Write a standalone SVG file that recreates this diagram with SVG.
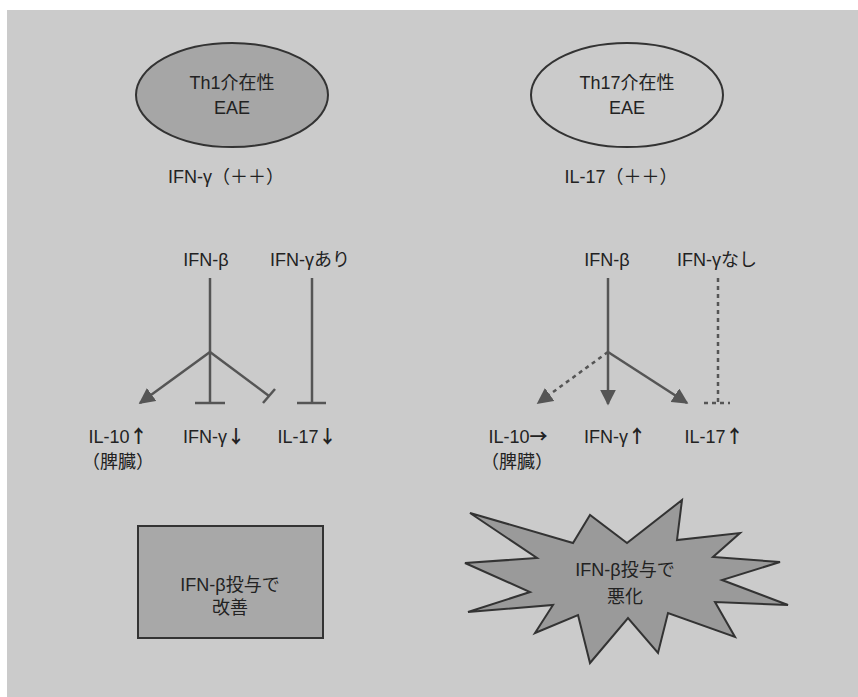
<svg xmlns="http://www.w3.org/2000/svg" width="858" height="697" viewBox="0 0 858 697">
<style>
text{font-family:"Liberation Sans","Noto Sans CJK JP",sans-serif;font-size:18px;fill:#222;text-anchor:middle}
.ar{font-family:"Noto Sans CJK JP",sans-serif;font-weight:bold}
.ln{stroke:#555;stroke-width:2.5;fill:none}
.dot{stroke:#555;stroke-width:2.5;fill:none;stroke-dasharray:4 4}
.shape{stroke:#333;stroke-width:2}
</style>
<defs>
<marker id="arr" viewBox="0 0 10 10" refX="9" refY="5" markerWidth="16" markerHeight="16" markerUnits="userSpaceOnUse" orient="auto">
<path d="M0,0 L10,5 L0,10 Z" fill="#555"/>
</marker>
</defs>
<rect x="7" y="10" width="851" height="687" fill="#cbcbcb"/>

<g id="th1">
<ellipse class="shape" cx="232" cy="95" rx="96" ry="52" fill="#a6a6a6"/>
<text x="232" y="89">Th1介在性</text>
<text x="232" y="114">EAE</text>
</g>
<g id="th17">
<ellipse class="shape" cx="627" cy="95" rx="96" ry="52" fill="#cbcbcb"/>
<text x="627" y="89">Th17介在性</text>
<text x="627" y="114">EAE</text>
</g>
<g id="ifng-pp"><text x="226" y="183">IFN-γ（＋＋）</text></g>
<g id="il17-pp"><text x="621" y="183">IL-17（＋＋）</text></g>

<g id="l-ifnb"><text x="206" y="266">IFN-β</text></g>
<g id="l-ifng-ari"><text x="310" y="266">IFN-γあり</text></g>
<g id="l-il10"><text x="118" y="443">IL-10<tspan class="ar">↑</tspan></text><text x="118" y="468">（脾臓）</text></g>
<g id="l-ifng-down"><text x="214" y="443">IFN-γ<tspan class="ar">↓</tspan></text></g>
<g id="l-il17-down"><text x="307" y="443">IL-17<tspan class="ar">↓</tspan></text></g>

<g id="r-ifnb"><text x="607" y="266">IFN-β</text></g>
<g id="r-ifng-nashi"><text x="717" y="266">IFN-γなし</text></g>
<g id="r-il10"><text x="518" y="443">IL-10<tspan class="ar">→</tspan></text><text x="517" y="468">（脾臓）</text></g>
<g id="r-ifng-up"><text x="615" y="443">IFN-γ<tspan class="ar">↑</tspan></text></g>
<g id="r-il17-up"><text x="714" y="443">IL-17<tspan class="ar">↑</tspan></text></g>

<g id="good">
<rect class="shape" x="138" y="526" width="185" height="112" fill="#a8a8a8"/>
<text x="230" y="591">IFN-β投与で</text>
<text x="230" y="614">改善</text>
</g>
<g id="bad">
<polygon class="shape" fill="#9a9a9a" points="470,513 573,543 590,515 627,543 682,500 677,540 740,533 713,557 780,562 722,580 788,605 715,602 735,637 668,613 658,653 628,618 590,663 578,615 535,633 553,605 468,612 530,592 465,563 537,558"/>
<text x="625" y="576" fill="#444">IFN-β投与で</text>
<text x="625" y="603" fill="#444">悪化</text>
</g>

<g id="connectors">
<line class="ln" x1="210" y1="278" x2="210" y2="403"/>
<line class="ln" x1="195" y1="403" x2="225" y2="403"/>
<line class="ln" x1="210" y1="352" x2="140" y2="403" marker-end="url(#arr)"/>
<line class="ln" x1="210" y1="352" x2="269" y2="396"/>
<line class="ln" x1="263" y1="403" x2="275" y2="389"/>
<line class="ln" x1="312" y1="278" x2="312" y2="403"/>
<line class="ln" x1="297" y1="403" x2="326" y2="403"/>

<line class="ln" x1="608" y1="278" x2="608" y2="404" marker-end="url(#arr)"/>
<line class="dot" x1="608" y1="352" x2="538" y2="403" marker-end="url(#arr)"/>
<line class="ln" x1="608" y1="352" x2="687" y2="403" marker-end="url(#arr)"/>
<line class="dot" x1="718" y1="278" x2="718" y2="403"/>
<line class="dot" x1="704" y1="403" x2="730" y2="403"/>
</g>
</svg>
